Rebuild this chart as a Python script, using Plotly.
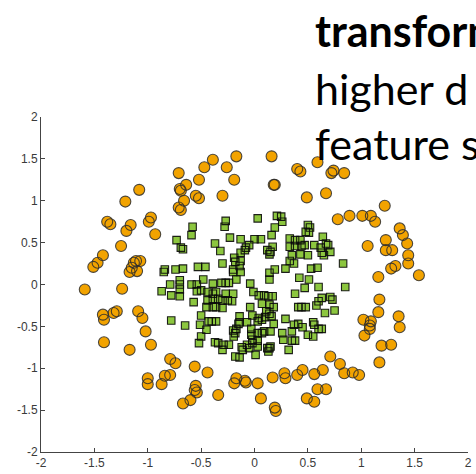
import plotly.graph_objects as go

# Outer ring class (orange circles)
ring_x = [
    -0.71, -0.47, -0.39, -0.26, -0.17, -0.52, -0.19, -0.64, -0.70, -0.69,
    -0.55, -0.52, -0.30, -0.66, -0.71, -0.69, -1.08, -1.21, -1.38, -1.35,
    -1.16, -1.20, -0.97, -0.99, -0.93, -1.25, -1.42, -1.47, -1.51, -1.11,
    -1.07, -1.13, -1.15, -1.17, -1.10,
    0.16, 0.40, 0.43, 0.59, 0.74, 0.72, 0.84, 0.18, 0.19, 0.67,
    0.49, 1.22, 0.78, 0.89, 1.01, 1.09, 1.13, 1.36, 1.39, 1.43,
    1.23, 1.06, 1.23, 1.29, 1.44, 1.44, 1.32, 1.28, 1.16, 1.54,
    -1.59, -1.24, -1.42, -1.41, -1.32, -1.29, -1.09, -1.05, -1.02, -1.41,
    -1.17, -0.97, -0.79, -0.74, -0.56, -0.44, -1.00, -1.00, -0.84, -0.79,
    -0.87, -0.55, -0.56, -0.54, -0.60, -0.67, -0.34, -0.17, -0.19, -0.09,
    -0.08,
    1.17, 1.16, 1.35, 1.36, 1.02, 1.09, 1.08, 1.08, 1.03, 1.19,
    1.28, 1.17, 0.71, 0.80, 0.84, 0.92, 0.98, 0.64, 0.56, 0.45,
    0.40, 0.28, 0.29, 0.17, 0.03, 0.06, 0.19, 0.20, 0.49, 0.56,
    0.59, 0.67,
]
ring_y = [
    1.33, 1.40, 1.49, 1.40, 1.53, 1.25, 1.25, 1.19, 1.14, 1.12,
    1.06, 1.03, 1.06, 1.00, 0.92, 0.89, 1.13, 0.99, 0.75, 0.72,
    0.71, 0.64, 0.80, 0.75, 0.60, 0.46, 0.35, 0.26, 0.21, 0.28,
    0.28, 0.26, 0.20, 0.15, 0.16,
    1.53, 1.38, 1.35, 1.46, 1.36, 1.33, 1.33, 1.19, 1.19, 1.09,
    1.04, 0.94, 0.78, 0.82, 0.82, 0.82, 0.75, 0.67, 0.59, 0.49,
    0.53, 0.46, 0.41, 0.41, 0.35, 0.25, 0.22, 0.19, 0.09, 0.11,
    -0.06, -0.05, -0.36, -0.42, -0.34, -0.32, -0.32, -0.40, -0.56, -0.69,
    -0.78, -0.72, -0.89, -0.94, -0.98, -1.05, -1.12, -1.19, -1.09, -1.08,
    -1.19, -1.21, -1.26, -1.29, -1.38, -1.42, -1.32, -1.12, -1.18, -1.15,
    -1.17,
    -0.18, -0.33, -0.38, -0.51, -0.42, -0.44, -0.49, -0.53, -0.61, -0.73,
    -0.72, -0.93, -0.86, -0.95, -1.06, -1.05, -1.08, -1.02, -1.07, -1.02,
    -1.08, -1.06, -1.12, -1.11, -1.18, -1.36, -1.47, -1.51, -1.36, -1.40,
    -1.25, -1.25,
]

# Inner class (green squares)
core_x = [
    -0.27, 0.03, 0.21, 0.25, 0.26,
    -0.58, -0.28, 0.19, 0.50, 0.52, 0.48, 0.51,
    -0.59, 0.16, 0.64, -0.73, -0.23, -0.13, 0.00, 0.06, 0.33, 0.38, 0.43,
    0.44, 0.47, 0.38, 0.33,
    -0.69, -0.67, -0.37, -0.05, -0.08, 0.17, 0.56, 0.67, 0.69, 0.62,
    -0.32, -0.09, -0.13, 0.12, 0.15, 0.14, 0.35, 0.43, 0.50, 0.63, 0.65, 0.71,
    -0.19, -0.13, -0.18, -0.30, 0.33, 0.37, 0.83,
    -0.85, -0.84, -0.74, -0.67, -0.53, -0.46, -0.14, -0.20, -0.20, -0.13,
    0.19, 0.29, 0.14, 0.53, 0.59,
    -0.70, -0.48, -0.17, 0.14, 0.42, 0.51, -0.79, -0.70, -0.59, -0.54,
    -0.39, -0.31, -0.27, -0.24, -0.04,
    -0.87, -0.70, -0.54, -0.50, -0.44, -0.39, -0.36, -0.27, -0.20, -0.01,
    0.04, 0.09, 0.13, 0.17, 0.38, 0.47, 0.60, 0.85, -0.78, -0.70,
    -0.57, -0.44, -0.39, -0.34, -0.30, -0.25, -0.21, 0.07, 0.14, 0.60,
    0.63, 0.71, 0.73, 0.58,
    -0.45, -0.39, -0.36, -0.30, -0.04, 0.18, 0.41, 0.44, 0.48, 0.11,
    0.66, 0.75,
    -0.50, -0.14, -0.02, 0.10, 0.14, 0.29, -0.78, -0.43, -0.40, -0.36,
    -0.14, -0.07, 0.03, 0.04, 0.07, 0.16, 0.55,
    -0.51, -0.65, 0.18, 0.37, 0.41, 0.45, 0.56, -0.45, -0.20, -0.15,
    -0.17, -0.03, 0.09, 0.15, 0.35, 0.60, 0.63,
    -0.18, 0.26, -0.50, -0.195, -0.03, 0.03, 0.07, -0.02, 0.03, 0.27,
    0.35, 0.38, 0.50, 0.55,
    -0.52, -0.37, -0.34, -0.29, -0.24, -0.07, -0.02, 0.03, 0.12, 0.14,
    0.32, -0.30, -0.11, -0.05, 0.13, -0.12, 0.15,
    -0.18, -0.14, 0.01,
]
core_y = [
    0.76, 0.79, 0.82, 0.81, 0.75,
    0.69, 0.69, 0.68, 0.71, 0.68, 0.63, 0.62,
    0.59, 0.59, 0.57, 0.53, 0.56, 0.54, 0.54, 0.54, 0.55, 0.53, 0.53,
    0.46, 0.47, 0.46, 0.45,
    0.44, 0.42, 0.49, 0.47, 0.44, 0.45, 0.47, 0.49, 0.47, 0.44,
    0.40, 0.41, 0.38, 0.41, 0.39, 0.36, 0.35, 0.36, 0.35, 0.38, 0.35, 0.39,
    0.32, 0.28, 0.27, 0.25, 0.28, 0.25, 0.25,
    0.15, 0.18, 0.18, 0.19, 0.21, 0.21, 0.22, 0.18, 0.15, 0.15,
    0.18, 0.19, 0.14, 0.19, 0.20,
    0.05, 0.06, 0.06, 0.06, 0.08, 0.06, 0.00, 0.00, 0.00, 0.00,
    0.01, 0.02, 0.02, 0.02, 0.01,
    -0.08, -0.06, -0.08, -0.07, -0.09, -0.11, -0.09, -0.11, -0.11, -0.09,
    -0.13, -0.13, -0.14, -0.14, -0.11, -0.04, -0.03, -0.03, -0.13, -0.14,
    -0.21, -0.19, -0.17, -0.17, -0.19, -0.19, -0.20, -0.23, -0.24, -0.20,
    -0.16, -0.15, -0.18, -0.25,
    -0.27, -0.27, -0.27, -0.28, -0.27, -0.27, -0.27, -0.27, -0.27, -0.32,
    -0.34, -0.31,
    -0.37, -0.38, -0.37, -0.39, -0.35, -0.41, -0.43, -0.44, -0.44, -0.44,
    -0.45, -0.45, -0.44, -0.40, -0.42, -0.38, -0.45,
    -0.48, -0.49, -0.47, -0.48, -0.47, -0.51, -0.48, -0.54, -0.55, -0.47,
    -0.53, -0.53, -0.56, -0.56, -0.56, -0.53, -0.53,
    -0.58, -0.58, -0.62, -0.62, -0.60, -0.58, -0.58, -0.66, -0.67, -0.66,
    -0.67, -0.67, -0.60, -0.62,
    -0.70, -0.69, -0.70, -0.72, -0.72, -0.72, -0.70, -0.74, -0.76, -0.76,
    -0.78, -0.78, -0.78, -0.76, -0.80, -0.75, -0.74,
    -0.86, -0.87, -0.84,
]

tick_vals = [-2, -1.5, -1, -0.5, 0, 0.5, 1, 1.5, 2]
tick_text = ["-2", "-1.5", "-1", "-0.5", "0", "0.5", "1", "1.5", "2"]

slide_lines = ["<b>transform</b>", "higher d", "feature s"]

ORANGE = "#F2A300"
GREEN = "#8CC63F"

fig = go.Figure()

# fills first, then every outline on top so overlapping edges stay visible
fig.add_trace(go.Scatter(
    x=ring_x, y=ring_y, mode="markers", hoverinfo="skip",
    marker=dict(symbol="circle", size=11, color=ORANGE, line=dict(width=0)),
))
fig.add_trace(go.Scatter(
    x=ring_x, y=ring_y, mode="markers", hoverinfo="skip",
    marker=dict(symbol="circle-open", size=11, color="rgba(45,45,45,0.85)",
                line=dict(width=1.1)),
))
fig.add_trace(go.Scatter(
    x=core_x, y=core_y, mode="markers", hoverinfo="skip",
    marker=dict(symbol="square", size=7.5, color=GREEN, line=dict(width=0)),
))
fig.add_trace(go.Scatter(
    x=core_x, y=core_y, mode="markers", hoverinfo="skip",
    marker=dict(symbol="square-open", size=7.5, color="rgba(10,10,10,0.9)",
                line=dict(width=1.1)),
))

axis_style = dict(
    range=[-2, 2], tickmode="array", tickvals=tick_vals, ticktext=tick_text,
    ticks="inside", ticklen=4, tickwidth=1, tickcolor="#444444",
    showline=True, linecolor="#444444", linewidth=1, mirror=False,
    showgrid=False, zeroline=False, fixedrange=True,
    tickfont=dict(family="Liberation Sans, Arial, sans-serif", size=12, color="#3a3a3a"),
)
fig.update_xaxes(**axis_style)
fig.update_yaxes(**axis_style)

# slide text lines overlapping the upper-right corner
line_y = [1.258, 1.084, 0.922]
for txt, yy in zip(slide_lines, line_y):
    fig.add_annotation(
        text=txt, xref="paper", yref="paper", x=0.637, y=yy,
        xanchor="left", yanchor="middle", showarrow=False,
        font=dict(family="Lato, 'Open Sans', sans-serif", size=43, color="#000000"),
    )

fig.update_layout(
    width=476, height=474,
    margin=dict(l=41, r=4, t=117, b=17),
    paper_bgcolor="white", plot_bgcolor="white",
    showlegend=False,
)

fig.write_html("out.html")
